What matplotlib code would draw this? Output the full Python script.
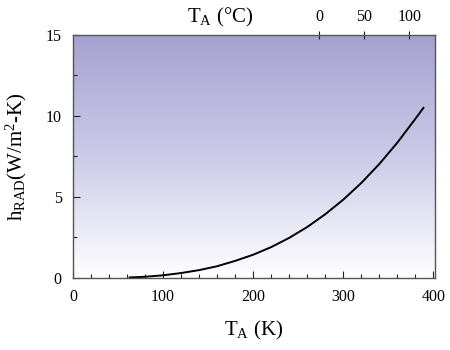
import numpy as np
import matplotlib
matplotlib.use("Agg")
import matplotlib.pyplot as plt
from matplotlib.colors import LinearSegmentedColormap

plt.rcParams['font.family'] = ['Liberation Serif', 'DejaVu Serif']
plt.rcParams['mathtext.fontset'] = 'custom'
plt.rcParams['mathtext.rm'] = 'Liberation Serif'
plt.rcParams['mathtext.it'] = 'Liberation Serif:italic'

# ambient temperature (K) and radiative heat transfer coefficient (W/m^2-K)
temp_k = [63, 80, 100, 120, 140, 160, 180, 200, 220, 240, 260, 280,
          300, 320, 340, 360, 380, 389]
h_rad = [0.03, 0.07, 0.16, 0.30, 0.48, 0.72, 1.05, 1.43, 1.90, 2.47, 3.14,
         3.93, 4.83, 5.86, 7.03, 8.35, 9.82, 10.5]
celsius_ticks = [0, 50, 100]

fig = plt.figure(figsize=(4.5, 3.5), dpi=100)
ax = fig.add_axes([0.162, 0.206, 0.805, 0.694])

# lavender-to-white background
cmap = LinearSegmentedColormap.from_list(
    "bg", [(1.0, 1.0, 1.0), (0.80, 0.795, 0.91), (0.645, 0.635, 0.815)])
grad = np.linspace(0, 1, 256).reshape(-1, 1)
ax.imshow(grad, cmap=cmap, aspect='auto', origin='lower',
          extent=[0, 1, 0, 1], transform=ax.transAxes, zorder=0)

ax.plot(temp_k, h_rad, color='black', lw=1.4, zorder=2)

ax.set_xlim(0, 402)
ax.set_ylim(0, 15)
ax.set_xticks([0, 100, 200, 300, 400])
ax.set_xticks(np.arange(0, 401, 20), minor=True)
ax.set_yticks([0, 5, 10, 15])
ax.set_yticks(np.arange(0, 15.1, 2.5), minor=True)
ax.tick_params(which='both', direction='in', top=False, right=False,
               labelsize=11.5, colors='#222222', labelcolor='black')
ax.tick_params(which='major', length=5, width=0.8, pad=8)
ax.tick_params(which='minor', length=3, width=0.8)
for s in ax.spines.values():
    s.set_color('#555555')
    s.set_linewidth(1.0)

ax.set_xlabel('T$_{\\rm A}$ (K)', fontsize=15, labelpad=10)
ax.set_ylabel('h$_{\\rm RAD}$(W/m$^2$-K)', fontsize=15, labelpad=12)

top = ax.secondary_xaxis('top', functions=(lambda t: t - 273.15,
                                           lambda c: c + 273.15))
top.set_xticks(celsius_ticks)
top.tick_params(direction='inout', length=6, width=0.8, labelsize=11.5,
                pad=4, colors='#222222', labelcolor='black')
top.spines['top'].set_visible(False)
fig.text(0.49, 0.95, 'T$_{\\rm A}$ (°C)', fontsize=15, ha='center', va='center')

fig.savefig('out.png', dpi=100)
